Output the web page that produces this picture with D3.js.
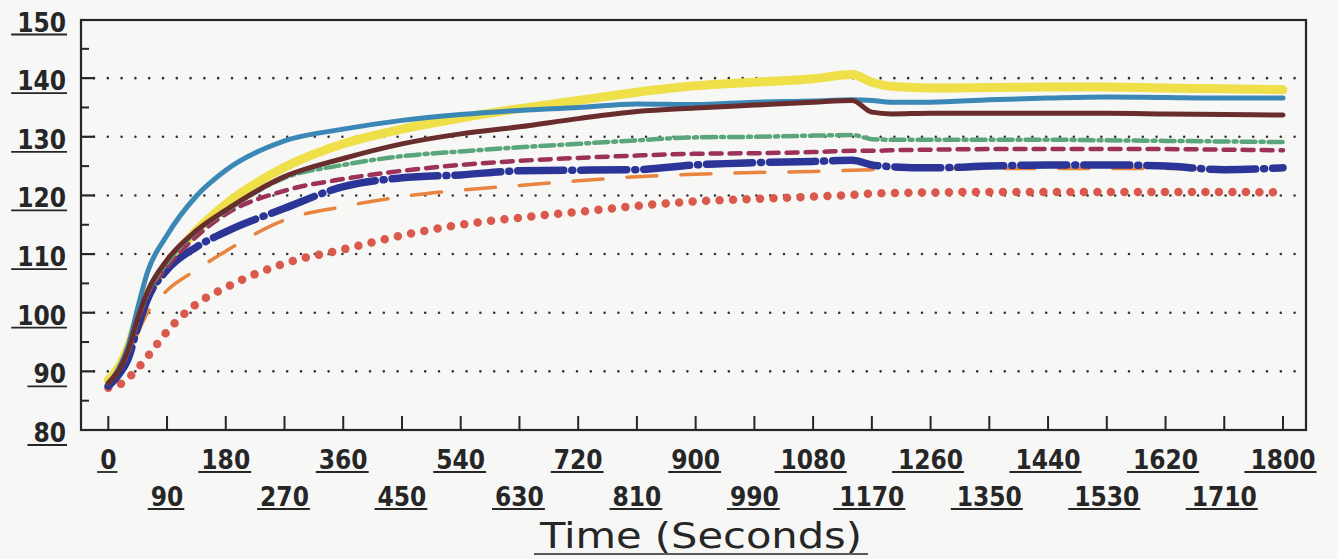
<!DOCTYPE html>
<html>
<head>
<meta charset="utf-8">
<script src="https://cdn.jsdelivr.net/npm/d3@7"></script>
<style>
  html, body { margin: 0; padding: 0; background: #f7f7f6; }
  svg { display: block; }
</style>
</head>
<body>
<svg id="chart" width="1338" height="559"></svg>
<script>
// ---- data ----
const times = [0, 15, 30, 45, 60, 90, 135, 180, 270, 360, 450, 540, 630, 720, 810, 900, 990, 1080, 1140, 1170, 1200, 1260, 1350, 1440, 1530, 1620, 1710, 1800];
const steelBlue = [88, 90.3, 94.2, 100.8, 106.9, 113.2, 119.9, 124.3, 129.3, 131.3, 132.8, 133.8, 134.5, 135.0, 135.6, 135.5, 135.9, 136.1, 136.3, 136.2, 135.9, 135.9, 136.3, 136.6, 136.8, 136.7, 136.6, 136.6];
const yellow = [88.5, 90.5, 94, 99, 103, 108, 114, 118.5, 124.8, 128.8, 131.3, 133.2, 134.8, 136.2, 137.6, 138.7, 139.3, 139.9, 140.6, 139.3, 138.6, 138.3, 138.4, 138.5, 138.5, 138.3, 138.2, 138.0];
const brown = [88, 90, 93.5, 99, 103.6, 109, 114, 117.5, 123.2, 126.3, 128.8, 130.5, 131.7, 133.1, 134.3, 134.9, 135.4, 135.9, 136.2, 134.2, 133.9, 134.0, 134.0, 134.0, 134.0, 133.9, 133.8, 133.7];
const green = [88, 90, 93.3, 98.8, 103.3, 108.5, 113.8, 117.3, 123, 125.2, 126.7, 127.5, 128.2, 128.8, 129.4, 129.9, 130.0, 130.2, 130.3, 129.6, 129.5, 129.5, 129.5, 129.5, 129.4, 129.3, 129.2, 129.1];
const maroon = [88, 90, 93, 98.5, 103, 107.8, 113, 116.8, 120.8, 122.8, 124.2, 125.2, 125.9, 126.4, 126.8, 127.1, 127.2, 127.4, 127.6, 127.6, 127.7, 127.8, 127.9, 127.9, 127.9, 127.9, 127.8, 127.7];
const navy = [87.5, 89.3, 92, 97.5, 102.3, 107.3, 111.2, 113.8, 117.8, 121.5, 123, 123.5, 124.2, 124.3, 124.4, 125.2, 125.6, 125.8, 126, 125.2, 124.9, 124.7, 125.0, 125.2, 125.2, 125.0, 124.4, 124.7];
const orange = [88, 90, 92.5, 96.5, 100, 103.8, 107.3, 110.5, 115.8, 118.1, 119.8, 120.9, 121.7, 122.5, 123.2, 123.6, 123.9, 124.1, 124.3, 124.4, 124.5, 124.6, 124.6, 124.6, 124.6, 124.6, 124.5, 124.5];
const red = [87.2, 87.6, 88.8, 90.5, 92.5, 96.8, 101.5, 104.3, 108.4, 110.8, 113.2, 115, 116.2, 117.2, 118.2, 119, 119.4, 119.8, 120.1, 120.3, 120.4, 120.5, 120.6, 120.6, 120.6, 120.6, 120.6, 120.5];
const xTickValues = d3.range(0, 1801, 90);
const yTickValues = [80, 90, 100, 110, 120, 130, 140, 150];
const xTitle = "Time (Seconds)";

// ---- scales ----
const svg = d3.select("#chart");
const x = d3.scaleLinear().domain([0, 1800]).range([108.3, 1283]);
const y = d3.scaleLinear().domain([80, 150]).range([430, 19.5]);
const frame = { left: 81, right: 1306, top: 20, bottom: 430 };
const ink = "#262626";
const font = "'DejaVu Sans Condensed', 'DejaVu Sans', sans-serif";

// grid (dotted)
svg.append("g").selectAll("line")
  .data(yTickValues.filter(v => v > 80 && v < 150))
  .join("line")
  .attr("x1", 94).attr("x2", 1300)
  .attr("y1", d => y(d)).attr("y2", d => y(d))
  .attr("stroke", "#333").attr("stroke-width", 2.6)
  .attr("stroke-linecap", "round")
  .attr("stroke-dasharray", "0 13.8");

// series
const series = [
  { name: "yellow", values: yellow, color: "#efe04a", width: 9, dash: null },
  { name: "red", values: red, color: "#d95a4c", width: 8.5, dash: "0 13.5" },
  { name: "orange", values: orange, color: "#e8843e", width: 3.5, dash: "30 24" },
  { name: "navy", values: navy, color: "#2b3598", width: 7.5, dash: "46 8 1 8" },
  { name: "maroon", values: maroon, color: "#9c3159", width: 4.5, dash: "11 8" },
  { name: "green", values: green, color: "#5aa67a", width: 4.5, dash: "14 5 3 5" },
  { name: "steel", values: steelBlue, color: "#3b87b5", width: 5, dash: null },
  { name: "brown", values: brown, color: "#6a2d2d", width: 5, dash: null }
];
const line = d3.line()
  .x((d, i) => x(times[i]))
  .y(d => y(d))
  .curve(d3.curveMonotoneX);

svg.append("g").selectAll("path")
  .data(series)
  .join("path")
  .attr("d", d => line(d.values))
  .attr("fill", "none")
  .attr("stroke", d => d.color)
  .attr("stroke-width", d => d.width)
  .attr("stroke-linecap", "round")
  .attr("stroke-linejoin", "round")
  .attr("stroke-dasharray", d => d.dash);

// frame
svg.append("rect")
  .attr("x", frame.left).attr("y", frame.top)
  .attr("width", frame.right - frame.left).attr("height", frame.bottom - frame.top)
  .attr("fill", "none").attr("stroke", ink).attr("stroke-width", 2.2);

// y ticks (major 10s long, minor 5s short)
const yMinor = d3.range(85, 150, 10);
svg.append("g").selectAll("line.maj")
  .data(yTickValues.filter(v => v > 80 && v < 150))
  .join("line")
  .attr("x1", frame.left).attr("x2", frame.left + 14)
  .attr("y1", d => y(d)).attr("y2", d => y(d))
  .attr("stroke", ink).attr("stroke-width", 2.2);
svg.append("g").selectAll("line.min")
  .data(yMinor)
  .join("line")
  .attr("x1", frame.left).attr("x2", frame.left + 8)
  .attr("y1", d => y(d)).attr("y2", d => y(d))
  .attr("stroke", ink).attr("stroke-width", 2);

// x ticks (pointing up from bottom)
svg.append("g").selectAll("line")
  .data(xTickValues)
  .join("line")
  .attr("x1", d => x(d)).attr("x2", d => x(d))
  .attr("y1", frame.bottom).attr("y2", frame.bottom - 14)
  .attr("stroke", ink).attr("stroke-width", 2);

// y labels with underline
const yLab = svg.append("g");
yTickValues.forEach(v => {
  const t = yLab.append("text")
    .attr("x", 66).attr("y", y(v) + 12)
    .attr("text-anchor", "end")
    .attr("font-family", font).attr("font-weight", "bold")
    .attr("font-size", 26).attr("fill", ink)
    .text(v);
  const bb = t.node().getBBox();
  yLab.append("line")
    .attr("x1", bb.x - 6).attr("x2", bb.x + bb.width + 1)
    .attr("y1", y(v) + 15).attr("y2", y(v) + 15)
    .attr("stroke", ink).attr("stroke-width", 1.8);
});

// x labels in two staggered rows with underline
const xLab = svg.append("g");
xTickValues.forEach((v, i) => {
  const by = (i % 2 === 0) ? 469 : 506;
  const t = xLab.append("text")
    .attr("x", x(v)).attr("y", by)
    .attr("text-anchor", "middle")
    .attr("font-family", font).attr("font-weight", "bold")
    .attr("font-size", 26).attr("fill", ink)
    .text(v);
  const bb = t.node().getBBox();
  xLab.append("line")
    .attr("x1", bb.x - (v >= 1000 ? 6 : 3)).attr("x2", bb.x + bb.width + 1)
    .attr("y1", by + 3).attr("y2", by + 3)
    .attr("stroke", ink).attr("stroke-width", 1.8);
});

// x-axis title, underlined
svg.append("text")
  .attr("x", 701).attr("y", 548)
  .attr("text-anchor", "middle")
  .attr("font-family", font)
  .attr("font-size", 36).attr("fill", ink)
  .attr("textLength", 322).attr("lengthAdjust", "spacingAndGlyphs")
  .text(xTitle);
svg.append("line")
  .attr("x1", 534).attr("x2", 868)
  .attr("y1", 554).attr("y2", 554)
  .attr("stroke", ink).attr("stroke-width", 1.6);
</script>
</body>
</html>
